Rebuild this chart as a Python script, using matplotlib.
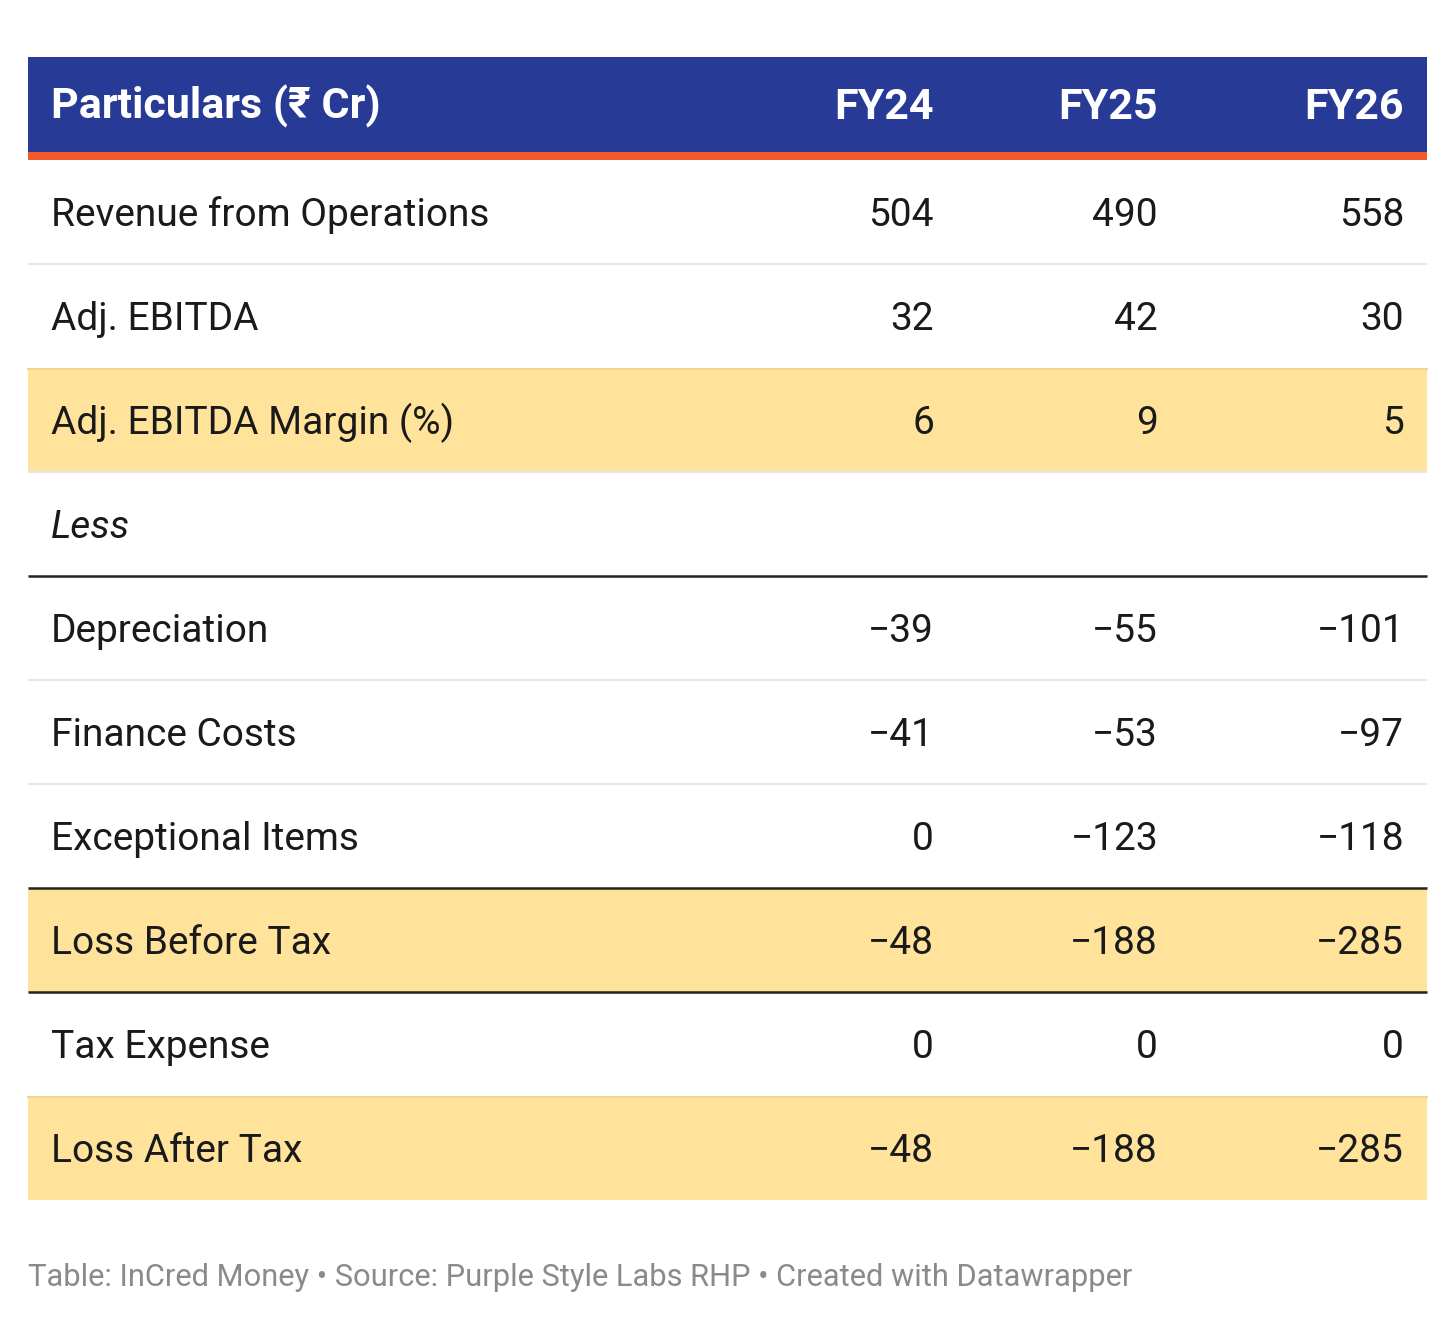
import matplotlib
matplotlib.use("Agg")
import matplotlib.pyplot as plt
from matplotlib.patches import Rectangle

# table content
columns = ["FY24", "FY25", "FY26"]
row_labels = [
    "Revenue from Operations",
    "Adj. EBITDA",
    "Adj. EBITDA Margin (%)",
    "Less",
    "Depreciation",
    "Finance Costs",
    "Exceptional Items",
    "Loss Before Tax",
    "Tax Expense",
    "Loss After Tax",
]
fy24 = [504, 32, 6, None, -39, -41, 0, -48, 0, -48]
fy25 = [490, 42, 9, None, -55, -53, -123, -188, 0, -188]
fy26 = [558, 30, 5, None, -101, -97, -118, -285, 0, -285]
highlight_rows = [2, 7, 9]
italic_rows = [3]
thick_line_after = [3, 6, 7]
footer = "Table: InCred Money • Source: Purple Style Labs RHP • Created with Datawrapper"

BLUE = "#273a96"
ORANGE = "#f15a29"
YELLOW = "#ffe39b"
FONT = ["Roboto", "DejaVu Sans"]

W, H = 1456, 1321
X0, X1 = 28, 1427
HEAD_TOP, HEAD_BOT, ORANGE_BOT = 57, 152, 160
ROW_H = 104
COL_X = [934, 1158, 1404]
LABEL_X = 51


def fmt(v):
    if v is None:
        return ""
    return ("\u2212" + str(-v)) if v < 0 else str(v)


fig = plt.figure(figsize=(W / 100, H / 100), dpi=100)
ax = fig.add_axes([0, 0, 1, 1])
ax.set_xlim(0, W)
ax.set_ylim(H, 0)
ax.axis("off")
fig.patch.set_facecolor("white")

# header
ax.add_patch(Rectangle((X0, HEAD_TOP), X1 - X0, HEAD_BOT - HEAD_TOP, facecolor=BLUE, edgecolor="none"))
ax.add_patch(Rectangle((X0, HEAD_BOT), X1 - X0, ORANGE_BOT - HEAD_BOT, facecolor=ORANGE, edgecolor="none"))
hb = (HEAD_TOP + HEAD_BOT) / 2 + 14.5
ax.text(LABEL_X, hb, "Particulars (₹ Cr)", ha="left", va="baseline", fontsize=31,
        fontweight="bold", color="white", family=FONT)
for cx, name in zip(COL_X, columns):
    ax.text(cx, hb, name, ha="right", va="baseline", fontsize=31,
            fontweight="bold", color="white", family=FONT)

# body rows
for i, label in enumerate(row_labels):
    top = ORANGE_BOT + i * ROW_H
    bot = top + ROW_H
    if i in highlight_rows:
        ax.add_patch(Rectangle((X0, top), X1 - X0, ROW_H, facecolor=YELLOW, edgecolor="none", zorder=0))
        if i - 1 not in thick_line_after:
            ax.plot([X0, X1], [top + 0.5, top + 0.5], color="#f2d88a", lw=1.5, zorder=1)
    base = (top + bot) / 2 + 14
    ax.text(LABEL_X, base, label, ha="left", va="baseline", fontsize=28, color="#1a1a1a",
            family=FONT, style="italic" if i in italic_rows else "normal")
    for cx, vals in zip(COL_X, [fy24, fy25, fy26]):
        ax.text(cx, base, fmt(vals[i]), ha="right", va="baseline", fontsize=28,
                color="#1a1a1a", family=FONT)
    if i == len(row_labels) - 1:
        continue
    if i in thick_line_after:
        ax.plot([X0, X1], [bot, bot], color="#222222", lw=1.8, zorder=3, solid_capstyle="butt")
    elif i + 1 not in highlight_rows:
        ax.plot([X0, X1], [bot, bot], color="#e6e6e6", lw=1.6, zorder=2, solid_capstyle="butt")

# footer
ax.text(X0, 1286, footer, ha="left", va="baseline", fontsize=22.2, color="#8a8a8a", family=FONT)

fig.savefig("out.png", dpi=100, facecolor="white")
